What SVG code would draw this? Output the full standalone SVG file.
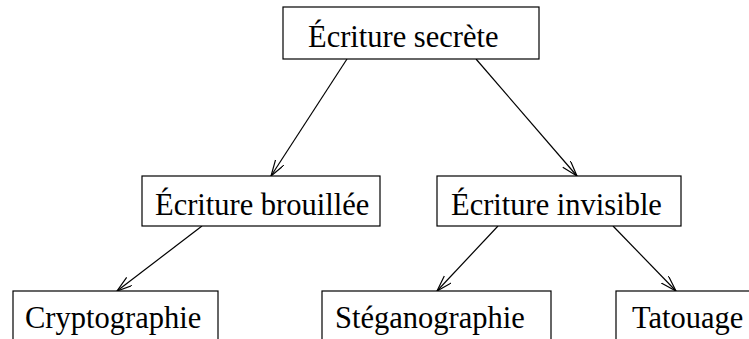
<svg xmlns="http://www.w3.org/2000/svg" width="749" height="339" viewBox="0 0 749 339">
<defs>
<style>
.box{fill:#fff;stroke:#000;stroke-width:1.2}
.lbl{font-family:"Liberation Serif","Times New Roman",serif;font-size:30.5px;fill:#000}
.edge{stroke:#000;stroke-width:1.2;fill:none;marker-end:url(#arr)}
</style>
<marker id="arr" markerUnits="userSpaceOnUse" markerWidth="18" markerHeight="12" refX="16" refY="5" orient="auto">
<path d="M0,0 L16,5 L0,10" fill="none" stroke="#000" stroke-width="1.2"/>
</marker>
</defs>
<g id="connectors">
<line class="edge" x1="347" y1="59" x2="271" y2="176"/>
<line class="edge" x1="476" y1="59" x2="577" y2="176"/>
<line class="edge" x1="202" y1="226" x2="117" y2="291"/>
<line class="edge" x1="498" y1="226" x2="437" y2="291"/>
<line class="edge" x1="613" y1="226" x2="676" y2="291"/>
</g>
<g id="n_secrete"><rect class="box" x="283" y="7" width="256" height="52"/><text class="lbl" x="308" y="47">Écriture secrète</text></g>
<g id="n_brouillee"><rect class="box" x="142" y="176" width="238" height="50"/><text class="lbl" x="155" y="215">Écriture brouillée</text></g>
<g id="n_invisible"><rect class="box" x="437" y="176" width="244" height="50"/><text class="lbl" x="451" y="215">Écriture invisible</text></g>
<g id="n_crypto"><rect class="box" x="13" y="291" width="205" height="60"/><text class="lbl" x="25" y="328">Cryptographie</text></g>
<g id="n_stega"><rect class="box" x="322" y="291" width="229" height="60"/><text class="lbl" x="335" y="328">Stéganographie</text></g>
<g id="n_tatouage"><rect class="box" x="616" y="291" width="150" height="60"/><text class="lbl" x="632" y="328">Tatouage</text></g>
</svg>
